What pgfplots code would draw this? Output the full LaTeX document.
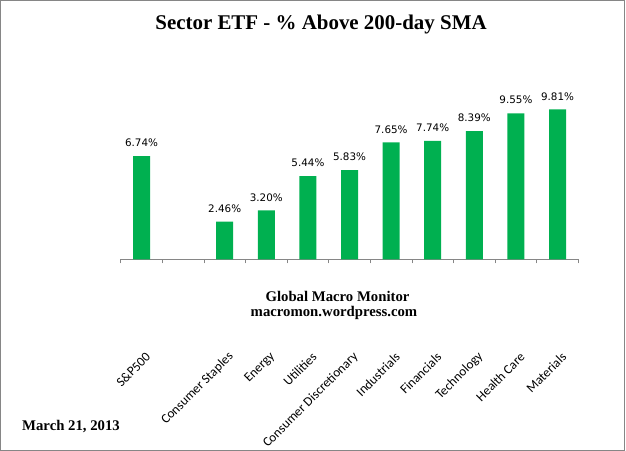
\documentclass[border=0pt]{standalone}
\usepackage{pgfplots}
\pgfplotsset{compat=1.18}
\usepackage{fontspec}
\setmainfont{Liberation Serif}
\newfontfamily\carlito{Carlito}
\newfontfamily\dejavu{DejaVu Sans}
\definecolor{barGreen}{RGB}{0,176,80}
\definecolor{frameGray}{RGB}{134,134,134}

\begin{document}
\begin{tikzpicture}
\useasboundingbox (0,0) rectangle (626bp,451bp);
\draw[frameGray, line width=1bp] (0.5bp,0.5bp) rectangle (624.5bp,450.5bp);
\begin{axis}[
  at={(120.7bp,191.7bp)}, anchor=south west,
  scale only axis, width=457.6bp, height=152.9bp,
  ymin=0, ymax=10, xmin=-0.5, xmax=10.5,
  enlargelimits=false,
  axis x line*=bottom, axis y line=none,
  ybar, bar width=17bp, bar shift=0pt,
  xtick={0,...,10},
  xticklabels={S\&P500,{},Consumer Staples,Energy,Utilities,Consumer Discretionary,Industrials,Financials,Technology,Health Care,Materials},
  major tick length=0pt,
  minor xtick={-0.5,0.5,...,10.5},
  minor tick length=4bp,
  xtick align=outside,
  x axis line style={frameGray, line width=0.8bp},
  tick style={frameGray, line width=0.8bp},
  xticklabel style={font=\carlito\fontsize{13.2}{15}\selectfont, anchor=east, yshift=-93bp, xshift=9bp, rotate=45},
  nodes near coords={\pgfmathprintnumber[fixed,fixed zerofill,precision=2,assume math mode=true]{\pgfplotspointmeta}\%},
  every node near coord/.append style={font=\dejavu\fontsize{10.4}{12}\selectfont, anchor=base, yshift=9.3bp},
  clip=false,
]
\addplot[fill=barGreen, draw=none] coordinates {
  (0,6.74) (2,2.46) (3,3.20) (4,5.44) (5,5.83)
  (6,7.65) (7,7.74) (8,8.39) (9,9.55) (10,9.81)};
\end{axis}
\node[font=\bfseries\fontsize{21}{24}\selectfont, anchor=base] at (321bp,421bp) {Sector ETF - \% Above 200-day SMA};
\node[font=\bfseries\fontsize{14.8}{17}\selectfont, anchor=base] at (337.5bp,149bp) {Global Macro Monitor};
\node[font=\bfseries\fontsize{14.8}{17}\selectfont, anchor=base] at (334bp,134bp) {macromon.wordpress.com};
\node[font=\bfseries\fontsize{14.8}{17}\selectfont, anchor=base west, inner sep=0pt] at (22bp,21bp) {March 21, 2013};
\end{tikzpicture}
\end{document}
